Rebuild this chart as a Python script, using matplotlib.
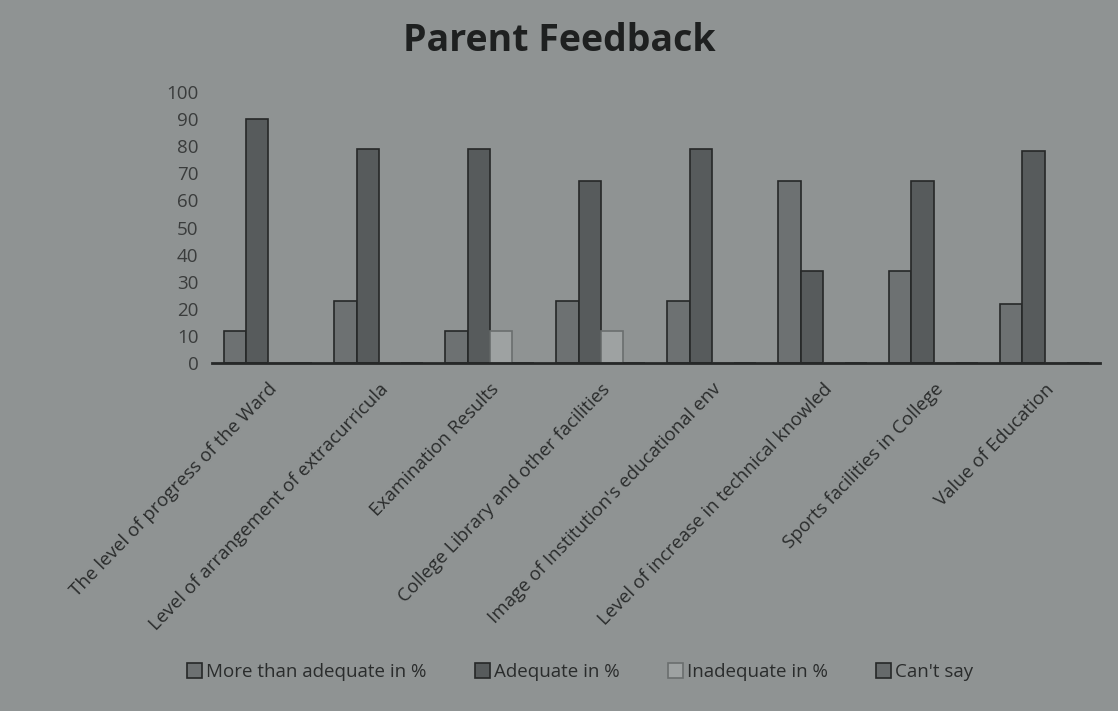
import matplotlib.pyplot as plt
import numpy as np

categories = [
    "The level of progress of the Ward",
    "Level of arrangement of extracurricula",
    "Examination Results",
    "College Library and other facilities",
    "Image of Institution's educational env",
    "Level of increase in technical knowled",
    "Sports facilities in College",
    "Value of Education",
]
more_than_adequate = [12, 23, 12, 23, 23, 67, 34, 22]
adequate = [90, 79, 79, 67, 79, 34, 67, 78]
inadequate = [0, 0, 12, 12, 0, 0, 0, 0]
cant_say = [0, 0, 0, 0, 0, 0, 0, 0]

series_names = ["More than adequate in %", "Adequate in %", "Inadequate in %", "Can't say"]
series = [more_than_adequate, adequate, inadequate, cant_say]
colors = ["#6d7172", "#575b5c", "#9ea2a2", "#666a6b"]
edges = ["#262828", "#262828", "#6a6e6e", "#262828"]

plt.rcParams['font.family'] = ['Open Sans', 'DejaVu Sans']

bg = "#8f9393"
fig = plt.figure(figsize=(11.18, 7.11), dpi=100, facecolor=bg)
ax = fig.add_axes([0.19, 0.489, 0.794, 0.382])
ax.set_facecolor(bg)

x = np.arange(len(categories))
w = 0.2
for i, (name, vals) in enumerate(zip(series_names, series)):
    ax.bar(x + (i - 1.5) * w, vals, w, color=colors[i], edgecolor=edges[i],
           linewidth=1.2, label=name)

ax.set_xlim(-0.5, len(categories) - 0.5)
ax.set_ylim(0, 100)
ax.set_yticks(range(0, 101, 10))
ax.set_xticks(x)
ax.set_xticklabels(categories, rotation=46, ha='right', rotation_mode='anchor',
                   fontsize=13.5, color="#2a2c2c")
ax.tick_params(axis='y', length=0, labelsize=13.5, labelcolor="#3a3c3c", pad=10)
ax.tick_params(axis='x', length=0, pad=12)
for s in ['top', 'right', 'left']:
    ax.spines[s].set_visible(False)
ax.spines['bottom'].set_linewidth(2)
ax.spines['bottom'].set_color("#262828")

fig.text(0.5, 0.943, "Parent Feedback", ha='center', va='center',
         fontsize=27, fontweight='bold', color="#1e2020")

fig.legend(loc='center', bbox_to_anchor=(0.519, 0.055), ncol=4, frameon=False,
           fontsize=13.5, handlelength=0.8, handleheight=0.8, handletextpad=0.2,
           columnspacing=2.6, labelcolor="#2a2c2c")

fig.savefig("out.png", dpi=100, facecolor=bg)
